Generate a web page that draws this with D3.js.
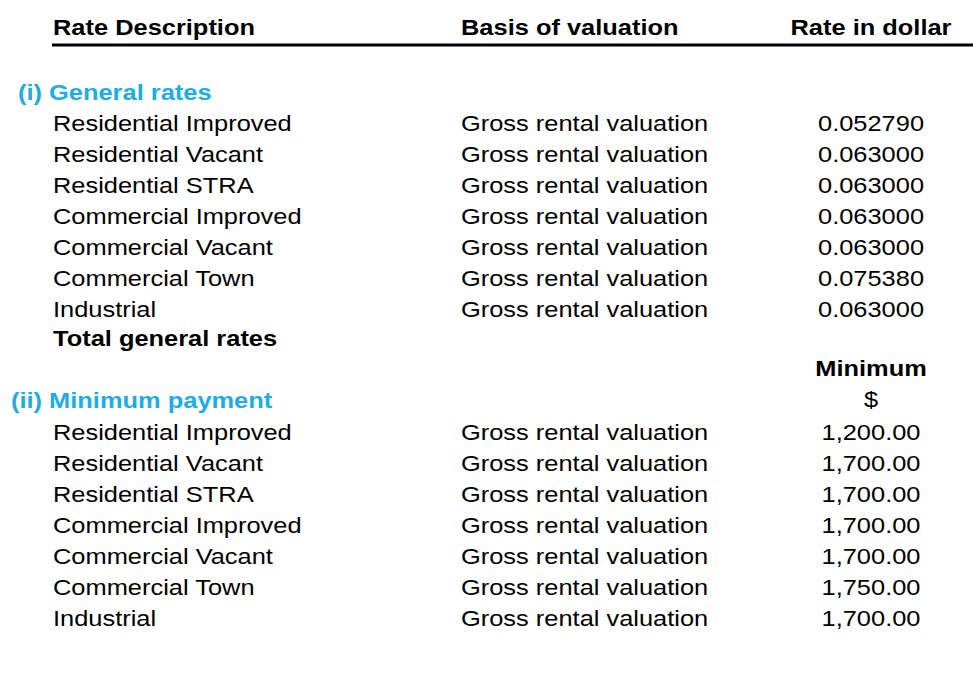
<!DOCTYPE html>
<html><head><meta charset="utf-8">
<script src="https://cdn.jsdelivr.net/npm/d3@7"></script>
<style>body{margin:0;background:#fff}text{font-family:"Liberation Sans",Arial,sans-serif;font-size:22.5px}</style>
</head><body>
<svg id="chart" width="973" height="673"></svg>
<script>
// table content
const headers = ['Rate Description', 'Basis of valuation', 'Rate in dollar'];
const categories = ['Residential Improved', 'Residential Vacant', 'Residential STRA',
  'Commercial Improved', 'Commercial Vacant', 'Commercial Town', 'Industrial'];
const basis = 'Gross rental valuation';
const generalRates = ['0.052790', '0.063000', '0.063000', '0.063000', '0.063000', '0.075380', '0.063000'];
const minimumPayments = ['1,200.00', '1,700.00', '1,700.00', '1,700.00', '1,700.00', '1,750.00', '1,700.00'];

const svg = d3.select('#chart');
const blue = '#1aaee8';
const colX = [53, 461, 871];
const rowY = d3.scaleLinear().domain([0, 1]).range([125.5, 156.4]); // row index -> y center

function text(x, y, s, opts = {}) {
  return svg.append('text')
    .attr('transform', `translate(${x},${y}) scale(1.13,1)`)
    .attr('dominant-baseline', 'middle')
    .attr('text-anchor', opts.anchor || 'start')
    .attr('font-weight', opts.bold ? 700 : 400)
    .attr('fill', opts.color || '#000')
    .text(s);
}

// header
headers.forEach((h, i) => text(colX[i], 29.5, h, { bold: true, anchor: i === 2 ? 'middle' : 'start' }));
svg.append('line').attr('x1', 52).attr('x2', 973).attr('y1', 45).attr('y2', 45)
  .attr('stroke', '#000').attr('stroke-width', 3);

// (i) general rates
text(18, 94.5, '(i) General rates', { bold: true, color: blue });
categories.forEach((c, i) => {
  const y = rowY(i);
  text(colX[0], y, c);
  text(colX[1], y, basis);
  text(colX[2], y, generalRates[i], { anchor: 'middle' });
});
text(colX[0], 340.5, 'Total general rates', { bold: true });

// (ii) minimum payment
text(colX[2], 370.5, 'Minimum', { bold: true, anchor: 'middle' });
text(colX[2], 401.5, '$', { anchor: 'middle' });
text(11, 402.5, '(ii) Minimum payment', { bold: true, color: blue });
categories.forEach((c, i) => {
  const y = rowY(i + 10);
  text(colX[0], y, c);
  text(colX[1], y, basis);
  text(colX[2], y, minimumPayments[i], { anchor: 'middle' });
});
</script>
</body></html>
